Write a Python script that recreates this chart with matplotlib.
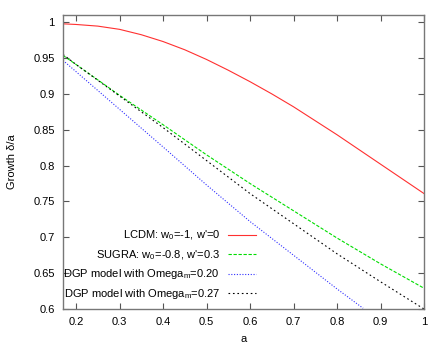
import numpy as np
import matplotlib
matplotlib.use("Agg")
import matplotlib.pyplot as plt

plt.rcParams['font.family'] = ['Liberation Sans', 'DejaVu Sans']
plt.rcParams['mathtext.fontset'] = 'custom'
plt.rcParams['mathtext.rm'] = 'Liberation Sans'
plt.rcParams['mathtext.it'] = 'Liberation Sans'

# Scale factor samples
a_lcdm = [0.17, 0.2, 0.25, 0.3, 0.35, 0.4, 0.45, 0.5, 0.55, 0.6, 0.65, 0.7, 0.8, 0.9, 1.0]
lcdm = [0.9977, 0.9968, 0.9945, 0.990, 0.9825, 0.973, 0.9615, 0.948, 0.933, 0.917,
        0.900, 0.882, 0.843, 0.802, 0.761]

a_vals = [0.17, 0.2, 0.3, 0.4, 0.5, 0.6, 0.7, 0.8, 0.9, 1.0]
sugra = [0.9536, 0.941, 0.898, 0.857, 0.815, 0.775, 0.737, 0.699, 0.663, 0.629]
dgp27 = [0.955, 0.941, 0.897, 0.853, 0.807, 0.761, 0.719, 0.677, 0.638, 0.600]

a_dgp20 = [0.17, 0.2, 0.3, 0.4, 0.5, 0.6, 0.7, 0.8, 0.86]
dgp20 = [0.9467, 0.931, 0.8785, 0.826, 0.773, 0.722, 0.675, 0.628, 0.601]

labels = ["LCDM: w$_0$=-1, w'=0",
          "SUGRA: w$_0$=-0.8, w'=0.3",
          "DGP model with Omega$_m$=0.20",
          "DGP model with Omega$_m$=0.27"]

fig = plt.figure(figsize=(4.43, 3.46), dpi=100)
ax = fig.add_axes([63 / 443, 1 - 309 / 346, 361 / 443, 294 / 346])

lw = 0.8
ax.plot(a_lcdm, lcdm, color='#ff3030', lw=lw, label=labels[0])
ax.plot(a_vals, sugra, color='#00dd00', lw=lw, ls=(0, (3, 1.5)), label=labels[1])
ax.plot(a_dgp20, dgp20, color='#3030ff', lw=lw, ls=(0, (1, 1.5)), label=labels[2])
ax.plot(a_vals, dgp27, color='#000000', lw=lw, ls=(0, (1.5, 2.5)), label=labels[3])

ax.set_xlim(0.17, 1.0)
ax.set_ylim(0.6, 1.01)
ax.set_xticks(np.arange(0.2, 1.01, 0.1))
ax.set_xticklabels(['0.2', '0.3', '0.4', '0.5', '0.6', '0.7', '0.8', '0.9', '1'])
ax.set_yticks([0.6, 0.65, 0.7, 0.75, 0.8, 0.85, 0.9, 0.95, 1.0])
ax.set_yticklabels(['0.6', '0.65', '0.7', '0.75', '0.8', '0.85', '0.9', '0.95', '1'])
ax.tick_params(direction='in', top=True, right=True, length=4, width=0.8,
               labelsize=8, pad=6, colors='#555555', labelcolor='black')
for s in ax.spines.values():
    s.set_color('#777777')
    s.set_linewidth(1.0)

ax.set_xlabel('a', fontsize=8, labelpad=5)
ax.set_ylabel('Growth δ/a', fontsize=8, labelpad=12)

leg = ax.legend(loc='lower right', bbox_to_anchor=(0.555, 0.0), frameon=False,
                markerfirst=False, fontsize=8, handlelength=2.5,
                handletextpad=0.7, labelspacing=0.52, borderaxespad=0.3)
for t in leg.get_texts():
    t.set_ha('right')

fig.savefig('out.png', dpi=100)
